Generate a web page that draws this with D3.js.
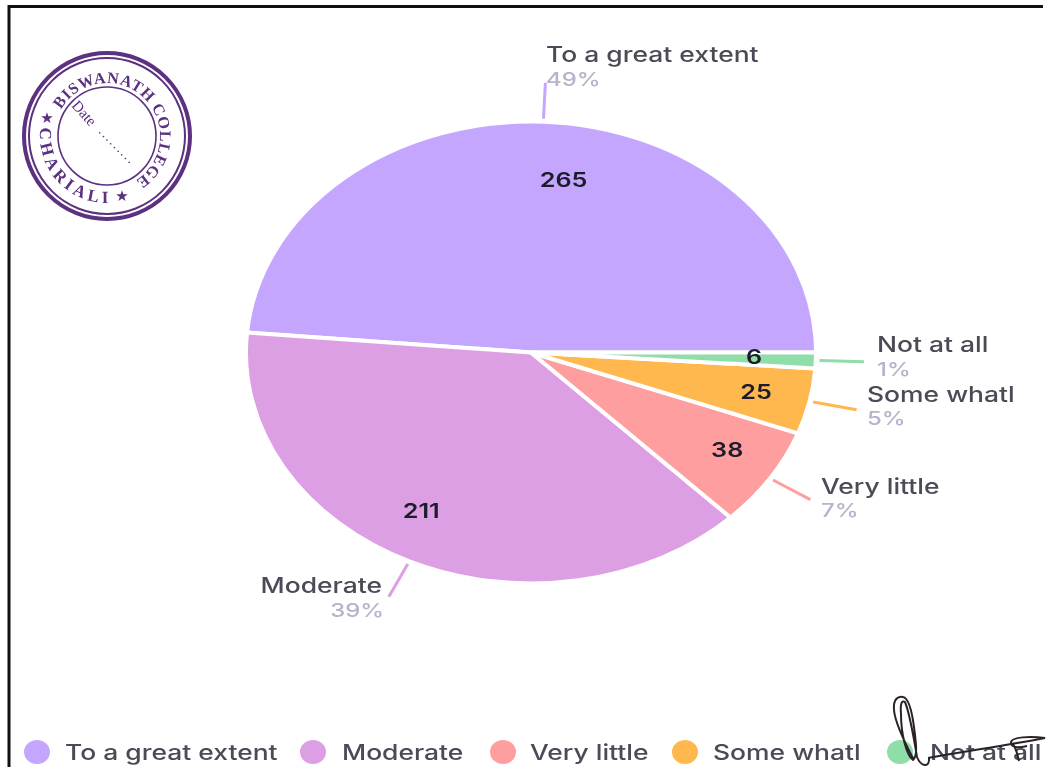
<!DOCTYPE html>
<html>
<head>
<meta charset="utf-8">
<style>
html,body{margin:0;padding:0;background:#fff;overflow:hidden}
svg{display:block}
text{font-family:"Inter","Noto Sans",sans-serif}
text.serif{font-family:"Liberation Serif",serif}
text.sym{font-family:"DejaVu Sans",sans-serif}
</style>
<script src="https://cdn.jsdelivr.net/npm/d3@7/dist/d3.min.js"></script>
</head>
<body>
<svg id="c" width="1046" height="767"></svg>
<script>
const categories = ["To a great extent","Moderate","Very little","Some whatl","Not at all"];
const counts = [265,211,38,25,6];
const percents = ["49%","39%","7%","5%","1%"];
const colors = ["#C4A6FF","#DD9FE3","#FF9E9E","#FFB84D","#8FDDA8"];
const stampTop = "BISWANATH COLLEGE";
const stampBottom = "CHARIALI";

// layout, kept apart from the data
const W=1046,H=767,cx=531,cy=352.5,ry=231,stretch=285/231,textStretch=1.26;
const labelPos=[
  {x:546,y:62,px:546,py:86,a:"start"},
  {x:382,y:593,px:384,py:617,a:"end"},
  {x:821,y:494,px:821,py:517,a:"start"},
  {x:867,y:402,px:867,py:425,a:"start"},
  {x:877,y:352,px:877,py:376,a:"start"}];
const valueNudge=[[23,7],[-15,-4],[10,-1],[8,1],[1,-2]];
const legendDot=[37,313,503,685,900], legendText=[65,342,530,713,930], legendY=752;

const svg=d3.select("#c");
const defs=svg.append("defs");
defs.append("filter").attr("id","soft").attr("x","-5%").attr("y","-5%").attr("width","110%").attr("height","110%")
  .append("feGaussianBlur").attr("stdDeviation",0.7);

// frame
svg.append("path").attr("d",`M9,767V6.5H1043`).attr("fill","none").attr("stroke","#111").attr("stroke-width",3);

const root=svg.append("g").attr("filter","url(#soft)");

// pie
const pie=d3.pie().value(d=>d).sort(null).startAngle(Math.PI/2).endAngle(Math.PI/2-2*Math.PI);
const arcs=pie(counts);
const arc=d3.arc().innerRadius(0).outerRadius(ry);
const pieG=root.append("g").attr("transform",`translate(${cx},${cy}) scale(${stretch},1)`);
pieG.selectAll("path").data(arcs).join("path")
  .attr("d",arc).attr("fill",(d,i)=>colors[i])
  .attr("stroke","#fff").attr("stroke-width",4).attr("vector-effect","non-scaling-stroke");

// leader lines
const mid=d=>(d.startAngle+d.endAngle)/2;
const pt=(d,r)=>[cx+Math.sin(mid(d))*r*stretch,cy-Math.cos(mid(d))*r];
root.append("g").selectAll("line").data(arcs).join("line")
  .attr("x1",d=>pt(d,ry+3)[0]).attr("y1",d=>pt(d,ry+3)[1])
  .attr("x2",d=>pt(d,270)[0]).attr("y2",d=>pt(d,270)[1])
  .attr("stroke",(d,i)=>colors[i]).attr("stroke-width",3);

function label(g,x,y,txt,size,fill,weight,anchor){
  return g.append("text").attr("transform",`translate(${x},${y}) scale(${textStretch},1)`)
    .attr("text-anchor",anchor||"start").attr("font-size",size).attr("font-weight",weight||500)
    .attr("fill",fill).text(txt);
}
// values inside slices
const cArc=d3.arc().innerRadius(130).outerRadius(230);
arcs.forEach((d,i)=>{
  const [x,y]=cArc.centroid(d);
  label(root,cx+x*stretch+valueNudge[i][0],cy+y+valueNudge[i][1]+7,counts[i],20,"#1c1c2c",600,"middle");
});
// outer labels
categories.forEach((c,i)=>{
  const p=labelPos[i];
  label(root,p.x,p.y,c,21,"#4c4c58",500,p.a);
  label(root,p.px,p.py,percents[i],19,"#B4B4CC",500,p.a);
});
// legend
categories.forEach((c,i)=>{
  root.append("ellipse").attr("cx",legendDot[i]).attr("cy",legendY).attr("rx",13).attr("ry",12).attr("fill",colors[i]);
  label(root,legendText[i],legendY+8,c,21,"#4c4c58",500,"start");
});

// stamp
const sc=[107,136], ink="#5B3080";
const st=root.append("g").attr("transform",`translate(${sc[0]},${sc[1]})`);
[[83,4],[78,2],[49,1.6]].forEach(([r,w])=>st.append("circle").attr("r",r).attr("fill","none").attr("stroke",ink).attr("stroke-width",w));
const polar=(r,a)=>[r*Math.sin(a),-r*Math.cos(a)];
const t0=polar(53,-Math.PI/3), t1=polar(53,Math.PI*0.95);
defs.append("path").attr("id","arcTop").attr("d",`M${t0}A53,53 0 1 1 ${t1}`);
const b0=polar(67,-Math.PI*0.46), b1=polar(67,Math.PI*0.9);
defs.append("path").attr("id","arcBot").attr("d",`M${b0}A67,67 0 0 0 ${b1}`);
st.append("text").attr("class","serif").attr("font-weight",700).attr("font-size",16).attr("fill",ink).attr("letter-spacing",0.7)
  .append("textPath").attr("href","#arcTop").text(stampTop);
st.append("text").attr("class","serif").attr("font-weight",700).attr("font-size",17).attr("fill",ink).attr("letter-spacing",4)
  .append("textPath").attr("href","#arcBot").text(stampBottom);
[[-60,-18],[15,60]].forEach(([x,y])=>st.append("text").attr("class","sym").attr("x",x).attr("y",y).attr("text-anchor","middle").attr("dominant-baseline","middle")
  .attr("font-size",15).attr("fill",ink).text("★"));
st.append("text").attr("class","serif").attr("transform","translate(-36,-30) rotate(48)").attr("font-size",15).attr("fill",ink).text("Date");
st.append("text").attr("class","serif").attr("transform","translate(-9,-4) rotate(45)").attr("font-size",14).attr("letter-spacing",1.7).attr("fill",ink).text(".........");

// signature
svg.append("path").attr("fill","none").attr("stroke","#2a2226").attr("stroke-width",2)
  .attr("d","M914,760C906,745 895,722 894,710C893,699 898,696 903,697C909,698 912,712 914,727C916,742 918,756 913,760C906,755 901,733 901,714C900,703 902,700 905,702C910,714 915,745 917,757C921,767 930,768 929,758M928,758C960,752 1010,745 1045,738C1030,736 1012,737 1011,742C1011,748 1018,748 1027,746M1013,744C1017,750 1018,757 1019,761");
</script>
</body>
</html>
